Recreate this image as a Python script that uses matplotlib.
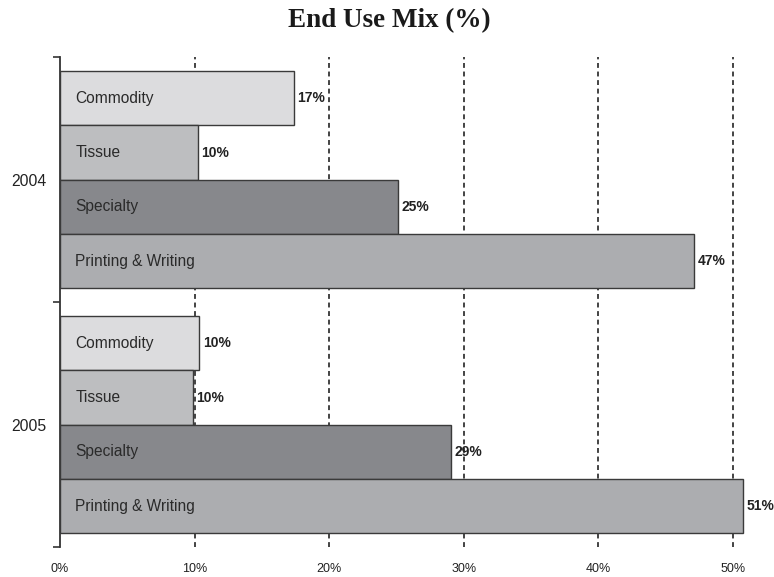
import matplotlib
matplotlib.use("Agg")
import matplotlib.pyplot as plt
import numpy as np

years = ["2004", "2005"]
segments = ["Commodity", "Tissue", "Specialty", "Printing & Writing"]
share_2004 = [17.4, 10.25, 25.1, 47.1]
share_2005 = [10.35, 9.85, 29.05, 50.75]
x_ticks = [0, 10, 20, 30, 40, 50]
x_tick_labels = ["0%", "10%", "20%", "30%", "40%", "50%"]

colors = ["#dcdcde", "#bdbec0", "#87888c", "#acadb0"]
edge = "#3a3a3a"

fig = plt.figure(figsize=(7.74, 5.77), dpi=100)
ax = fig.add_axes([60 / 774, 1 - 547.3 / 577, (52 * 13.46) / 774, (547.3 - 57.3) / 577])

group_w = 0.887
bar_h = group_w / len(segments)
data = [share_2004, share_2005]

for g, vals in enumerate(data):
    for j, (seg, v) in enumerate(zip(segments, vals)):
        yc = g - group_w / 2 + bar_h * (j + 0.5)
        ax.barh(yc, v, height=bar_h, color=colors[j], edgecolor=edge,
                linewidth=1.0, zorder=3)
        ax.text(1.15, yc, seg, ha="left", va="center", fontsize=11.2,
                family="Liberation Sans", color="#2a2a2a", zorder=4)
        ax.text(v + 0.25, yc, f"{v:.0f}%", ha="left", va="center",
                fontsize=10, fontweight="bold", family="Liberation Sans",
                color="#222222", zorder=4)

ax.set_xlim(0, 52)
ax.set_ylim(1.5, -0.5)

# dashed reference lines
for xv in x_ticks[1:]:
    ax.axvline(xv, color="#111111", linestyle=(0, (3.2, 2.4)), linewidth=1.1, zorder=1)

ax.set_xticks(x_ticks)
ax.set_xticklabels(x_tick_labels, fontsize=9, family="Liberation Sans", color="#222222")
ax.tick_params(axis="x", length=0, pad=11)

ax.set_yticks([-0.5, 0.5, 1.5])
ax.set_yticklabels([])
ax.tick_params(axis="y", which="major", length=5, width=1.2, color="#333333", direction="out")
ax.set_yticks([0, 1], minor=True)
ax.set_yticklabels(years, minor=True, fontsize=11.3, family="Liberation Sans", color="#222222")
ax.tick_params(axis="y", which="minor", length=0, pad=10)

for s in ["top", "right", "bottom"]:
    ax.spines[s].set_visible(False)
ax.spines["left"].set_color("#333333")
ax.spines["left"].set_linewidth(1.3)

fig.text(389.5 / 774, 1 - 21 / 577, "End Use Mix (%)", ha="center", va="center",
         fontsize=19.5, fontweight="bold", family="Liberation Serif", color="#1a1a1a")

fig.savefig("out.png", dpi=100)
